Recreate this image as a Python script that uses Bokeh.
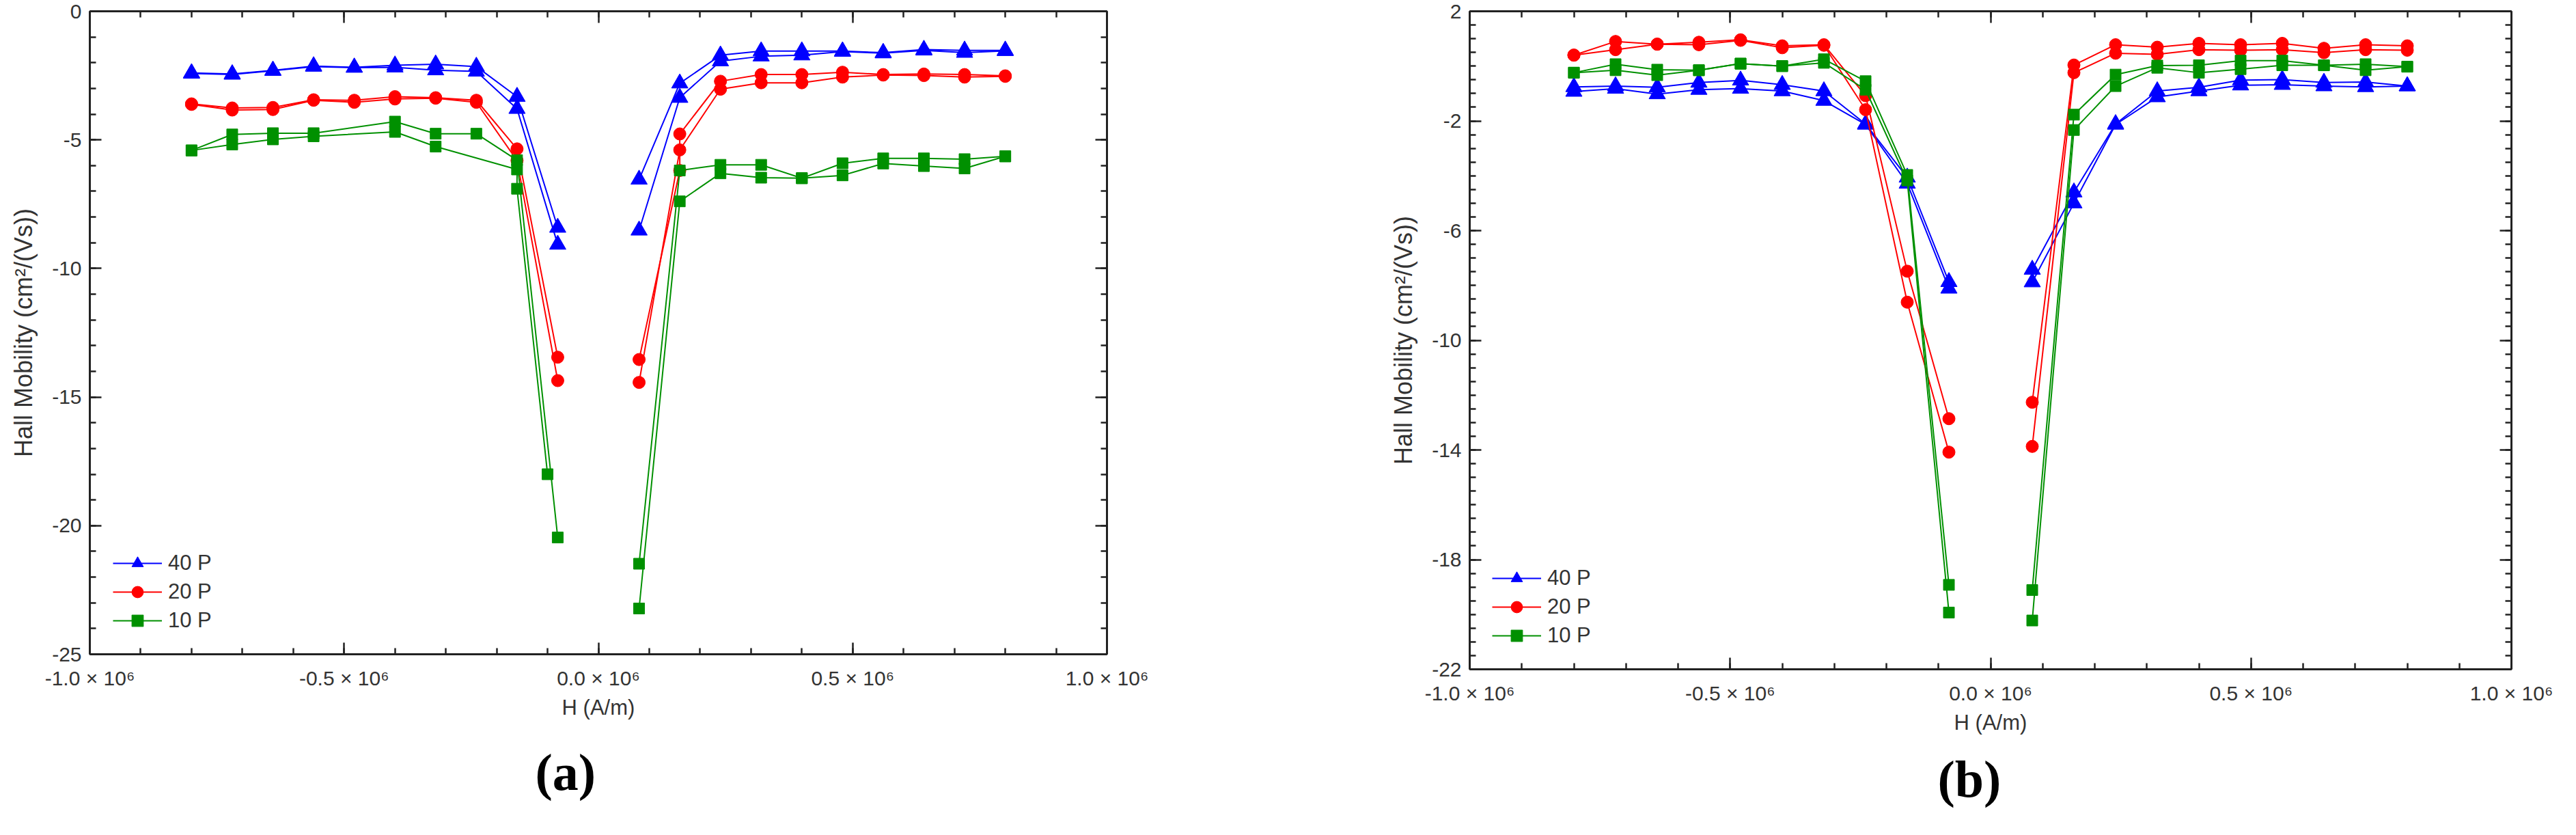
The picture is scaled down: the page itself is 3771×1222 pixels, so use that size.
import numpy as np
from bokeh.plotting import figure
from bokeh.models import Range1d, LinearAxis, FixedTicker, Legend, LegendItem, Title
from bokeh.layouts import row
from bokeh.embed import file_html
from bokeh.resources import INLINE

# ---------------- data ----------------
H_NEG = [-8.0e5, -7.2e5, -6.4e5, -5.6e5, -4.8e5, -4.0e5, -3.2e5, -2.4e5, -1.6e5, -0.8e5]
H_POS = [0.8e5, 1.6e5, 2.4e5, 3.2e5, 4.0e5, 4.8e5, 5.6e5, 6.4e5, 7.2e5, 8.0e5]

SERIES = ["40 P", "20 P", "10 P"]

X_TICKS = [-1.0e6, -0.5e6, 0.0, 0.5e6, 1.0e6]
X_TICK_LABELS = ["-1.0 \u00d7 10\u2076", "-0.5 \u00d7 10\u2076", "0.0 \u00d7 10\u2076",
                 "0.5 \u00d7 10\u2076", "1.0 \u00d7 10\u2076"]
X_MINOR = [-1.0e6, -0.9e6, -0.8e6, -0.7e6, -0.6e6, -0.5e6, -0.4e6, -0.3e6, -0.2e6, -0.1e6, 0.0,
           0.1e6, 0.2e6, 0.3e6, 0.4e6, 0.5e6, 0.6e6, 0.7e6, 0.8e6, 0.9e6, 1.0e6]

# panel (a)
A_Y_TICKS = [0, -5, -10, -15, -20, -25]
A_Y_LABELS = ["0", "-5", "-10", "-15", "-20", "-25"]
A_Y_MINOR = [0, -1, -2, -3, -4, -5, -6, -7, -8, -9, -10, -11, -12, -13, -14, -15, -16, -17,
             -18, -19, -20, -21, -22, -23, -24, -25]

A40_NEG_1 = [-2.40, -2.44, -2.30, -2.13, -2.18, -2.10, -2.06, -2.15, -3.32, -8.41]
A40_NEG_2 = [-2.42, -2.46, -2.31, -2.15, -2.19, -2.18, -2.29, -2.34, -3.79, -9.07]
A40_POS_1 = [-6.54, -2.80, -1.71, -1.55, -1.55, -1.55, -1.61, -1.49, -1.52, -1.52]
A40_POS_2 = [-8.52, -3.36, -1.94, -1.75, -1.71, -1.57, -1.63, -1.52, -1.61, -1.54]

A20_NEG_1 = [-3.60, -3.76, -3.74, -3.44, -3.46, -3.32, -3.36, -3.46, -5.35, -13.45]
A20_NEG_2 = [-3.62, -3.84, -3.82, -3.46, -3.54, -3.41, -3.38, -3.54, -5.80, -14.36]
A20_POS_1_H = [0.8e5, 1.6e5, 1.6e5, 2.4e5, 3.2e5, 4.0e5, 4.8e5, 5.6e5, 6.4e5, 7.2e5, 8.0e5]
A20_POS_1 = [-13.54, -6.19, -4.77, -2.72, -2.46, -2.46, -2.37, -2.46, -2.44, -2.46, -2.51]
A20_POS_2 = [-14.43, -5.39, -3.03, -2.78, -2.78, -2.56, -2.48, -2.50, -2.56, -2.53]

A10_NEG_1_H = [-8.0e5, -7.2e5, -6.4e5, -5.6e5, -4.0e5, -3.2e5, -2.4e5, -1.6e5, -0.8e5]
A10_NEG_1 = [-5.41, -4.79, -4.74, -4.74, -4.29, -4.76, -4.76, -5.79, -20.46]
A10_NEG_2_H = [-8.0e5, -7.2e5, -6.4e5, -5.6e5, -4.0e5, -3.2e5, -1.6e5, -1.6e5, -1.0e5]
A10_NEG_2 = [-5.41, -5.18, -4.98, -4.86, -4.69, -5.26, -6.15, -6.90, -18.00]
A10_POS_1 = [-21.48, -6.19, -5.97, -5.97, -6.49, -5.91, -5.72, -5.72, -5.75, -5.64]
A10_POS_2 = [-23.22, -7.39, -6.30, -6.47, -6.49, -6.38, -5.92, -6.02, -6.11, -5.64]

# panel (b)
B_Y_TICKS = [2, -2, -6, -10, -14, -18, -22]
B_Y_LABELS = ["2", "-2", "-6", "-10", "-14", "-18", "-22"]
B_Y_MINOR = [2.0, 1.5, 1.0, 0.5, 0.0, -0.5, -1.0, -1.5, -2.0, -2.5, -3.0, -3.5, -4.0, -4.5,
             -5.0, -5.5, -6.0, -6.5, -7.0, -7.5, -8.0, -8.5, -9.0, -9.5, -10.0, -10.5, -11.0,
             -11.5, -12.0, -12.5, -13.0, -13.5, -14.0, -14.5, -15.0, -15.5, -16.0, -16.5,
             -17.0, -17.5, -18.0, -18.5, -19.0, -19.5, -20.0, -20.5, -21.0, -21.5, -22.0]

B40_NEG_1 = [-0.76, -0.73, -0.77, -0.60, -0.52, -0.68, -0.91, -2.11, -4.06, -7.87]
B40_NEG_2 = [-0.93, -0.82, -1.02, -0.86, -0.82, -0.91, -1.26, -2.13, -4.28, -8.11]
B40_POS_1 = [-7.42, -4.60, -2.11, -0.91, -0.77, -0.51, -0.49, -0.60, -0.58, -0.73]
B40_POS_2 = [-7.88, -5.00, -2.13, -1.13, -0.91, -0.70, -0.68, -0.73, -0.76, -0.73]

B20_NEG_1 = [0.40, 0.90, 0.80, 0.87, 0.96, 0.74, 0.78, -1.08, -7.48, -12.86]
B20_NEG_2 = [0.40, 0.60, 0.80, 0.78, 0.94, 0.67, 0.76, -1.59, -8.61, -14.08]
B20_POS_1 = [-12.26, 0.04, 0.78, 0.69, 0.83, 0.78, 0.83, 0.65, 0.78, 0.74]
B20_POS_2 = [-13.87, -0.24, 0.47, 0.43, 0.60, 0.58, 0.60, 0.49, 0.60, 0.58]

B10_NEG_1 = [-0.24, 0.07, -0.13, -0.15, 0.09, 0.00, 0.25, -0.55, -3.97, -18.92]
B10_NEG_2 = [-0.24, -0.15, -0.33, -0.15, 0.09, 0.00, 0.12, -0.86, -4.17, -19.93]
B10_POS_1 = [-19.11, -1.77, -0.31, 0.02, 0.03, 0.20, 0.20, 0.03, 0.07, -0.02]
B10_POS_2 = [-20.22, -2.33, -0.73, -0.06, -0.24, -0.11, 0.03, 0.03, -0.15, -0.02]

# ---------------- styles ----------------
BLUE, RED, GREEN = "#0000FF", "#FF0000", "#009000"
AXC = "#222222"
TXT = "#333333"
SANS = "Liberation Sans"

STYLE = {
    "40 P": (BLUE, "triangle", 24),
    "20 P": (RED, "circle", 18),
    "10 P": (GREEN, "square", 16),
}

A_BRANCHES = {
    "40 P": [(H_NEG, A40_NEG_1, H_POS, A40_POS_1), (H_NEG, A40_NEG_2, H_POS, A40_POS_2)],
    "20 P": [(H_NEG, A20_NEG_1, A20_POS_1_H, A20_POS_1), (H_NEG, A20_NEG_2, H_POS, A20_POS_2)],
    "10 P": [(A10_NEG_1_H, A10_NEG_1, H_POS, A10_POS_1), (A10_NEG_2_H, A10_NEG_2, H_POS, A10_POS_2)],
}
B_BRANCHES = {
    "40 P": [(H_NEG, B40_NEG_1, H_POS, B40_POS_1), (H_NEG, B40_NEG_2, H_POS, B40_POS_2)],
    "20 P": [(H_NEG, B20_NEG_1, H_POS, B20_POS_1), (H_NEG, B20_NEG_2, H_POS, B20_POS_2)],
    "10 P": [(H_NEG, B10_NEG_1, H_POS, B10_POS_1), (H_NEG, B10_NEG_2, H_POS, B10_POS_2)],
}


def style_axis(ax, ticks, minor, labels):
    ax.ticker = FixedTicker(ticks=ticks, minor_ticks=minor)
    ax.axis_line_width = 3
    ax.axis_line_color = AXC
    ax.major_tick_in = 17
    ax.major_tick_out = 0
    ax.minor_tick_in = 9
    ax.minor_tick_out = 0
    ax.major_tick_line_width = 2.5
    ax.minor_tick_line_width = 2.5
    ax.major_tick_line_color = AXC
    ax.minor_tick_line_color = AXC
    if labels is None:
        ax.major_label_overrides = {t: "" for t in ticks}
        ax.major_label_standoff = 0
        ax.major_label_text_font_size = "1px"
    else:
        ax.major_label_overrides = dict(zip(ticks, labels))
        ax.major_label_text_font = SANS
        ax.major_label_text_font_size = "30px"
        ax.major_label_text_color = TXT


def make_panel(yr, yticks, ylabels, yminor, branches, fw, fh, bl, bt, br, bb,
               tag, tag_offset, tag_standoff, legend_xy):
    p = figure(frame_width=fw, frame_height=fh,
               x_range=Range1d(-1.0e6, 1.0e6), y_range=Range1d(*yr),
               x_axis_type=None, y_axis_type=None,
               output_backend="svg", toolbar_location=None,
               min_border_left=bl, min_border_top=bt, min_border_right=br, min_border_bottom=bb)
    p.outline_line_color = None
    p.background_fill_color = "white"
    p.border_fill_color = "white"

    xb = LinearAxis(axis_label="H (A/m)")
    style_axis(xb, X_TICKS, X_MINOR, X_TICK_LABELS)
    xb.major_label_standoff = 18
    xb.axis_label_standoff = 6
    xb.axis_label_text_font = SANS
    xb.axis_label_text_font_size = "31px"
    xb.axis_label_text_font_style = "normal"
    xb.axis_label_text_color = TXT
    p.add_layout(xb, "below")

    yl = LinearAxis(axis_label="Hall Mobility (cm\u00b2/(Vs))")
    style_axis(yl, yticks, yminor, ylabels)
    yl.major_label_standoff = 12
    yl.axis_label_standoff = 18
    yl.axis_label_text_font = SANS
    yl.axis_label_text_font_size = "36px"
    yl.axis_label_text_font_style = "normal"
    yl.axis_label_text_color = TXT
    p.add_layout(yl, "left")

    xt = LinearAxis()
    style_axis(xt, X_TICKS, X_MINOR, None)
    p.add_layout(xt, "above")
    yr_ax = LinearAxis()
    style_axis(yr_ax, yticks, yminor, None)
    p.add_layout(yr_ax, "right")

    items = []
    for name in SERIES:
        color, marker, size = STYLE[name]
        first = None
        for hn, mn, hp, mp in branches[name]:
            xs = np.array(list(hn) + [np.nan] + list(hp), dtype=float)
            ys = np.array(list(mn) + [np.nan] + list(mp), dtype=float)
            ln = p.line(xs, ys, line_color=color, line_width=2)
            sc = p.scatter(np.array(list(hn) + list(hp), dtype=float),
                           np.array(list(mn) + list(mp), dtype=float),
                           marker=marker, size=size, fill_color=color, line_color=color)
            if first is None:
                first = [ln, sc]
        items.append(LegendItem(label=name, renderers=first))

    leg = Legend(items=items, location=legend_xy)
    leg.padding = 0
    leg.margin = 0
    leg.spacing = 0
    leg.glyph_width = 72
    leg.glyph_height = 42
    leg.label_height = 40
    leg.label_standoff = 9
    leg.label_text_font = SANS
    leg.label_text_font_size = "31px"
    leg.label_text_color = TXT
    leg.border_line_color = None
    leg.background_fill_alpha = 0
    p.add_layout(leg)

    t = Title(text=tag, align="left", offset=tag_offset, standoff=tag_standoff,
              text_font="Liberation Serif", text_font_style="bold",
              text_font_size="76px", text_color="#000000")
    p.add_layout(t, "below")
    return p


pa = make_panel((-25, 0), A_Y_TICKS, A_Y_LABELS, A_Y_MINOR, A_BRANCHES,
                fw=1489, fh=941, bl=131, bt=14, br=272, bb=240,
                tag="(a)", tag_offset=652, tag_standoff=60, legend_xy=(34, 28))
pb = make_panel((-22, 2), B_Y_TICKS, B_Y_LABELS, B_Y_MINOR, B_BRANCHES,
                fw=1525, fh=963, bl=259, bt=16, br=74, bb=216,
                tag="(b)", tag_offset=685, tag_standoff=36, legend_xy=(33, 28))

layout = row(pa, pb)
open("out.html", "w").write(file_html(layout, INLINE))
